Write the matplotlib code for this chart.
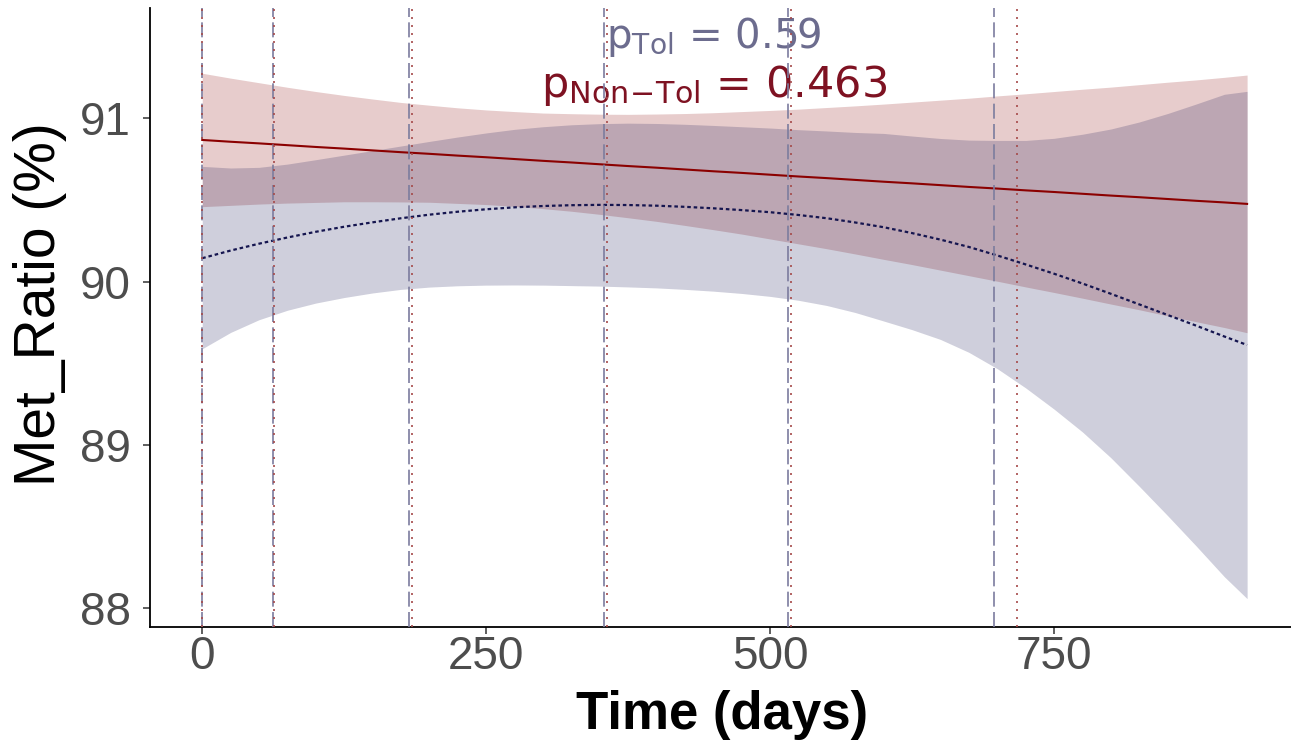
import matplotlib
matplotlib.use("Agg")
import matplotlib.pyplot as plt

# Fitted trajectories (with 95% confidence bands) of the methylation ratio over time
days = [0, 25, 50, 75, 100, 125, 150, 175, 200, 225, 250, 275, 300, 325, 350,
        375, 400, 425, 450, 475, 500, 525, 550, 575, 600, 625, 650, 675, 700,
        725, 750, 775, 800, 825, 850, 875, 900, 920]

nontol_fit = [90.868, 90.857, 90.847, 90.836, 90.825, 90.815, 90.804, 90.793,
              90.783, 90.772, 90.762, 90.751, 90.740, 90.730, 90.719, 90.708,
              90.698, 90.687, 90.676, 90.666, 90.655, 90.644, 90.634, 90.623,
              90.612, 90.602, 90.591, 90.580, 90.570, 90.559, 90.549, 90.538,
              90.527, 90.517, 90.506, 90.495, 90.485, 90.476]
nontol_hi = [91.277, 91.247, 91.219, 91.191, 91.165, 91.141, 91.119, 91.098,
             91.081, 91.065, 91.052, 91.042, 91.033, 91.029, 91.026, 91.025,
             91.027, 91.030, 91.035, 91.042, 91.049, 91.057, 91.067, 91.077,
             91.088, 91.100, 91.112, 91.124, 91.138, 91.151, 91.165, 91.179,
             91.192, 91.207, 91.222, 91.236, 91.252, 91.266]
nontol_lo = [90.459, 90.467, 90.475, 90.481, 90.485, 90.489, 90.489, 90.488,
             90.486, 90.479, 90.472, 90.461, 90.447, 90.431, 90.412, 90.391,
             90.369, 90.344, 90.318, 90.291, 90.261, 90.231, 90.201, 90.169,
             90.136, 90.104, 90.070, 90.036, 90.002, 89.967, 89.933, 89.898,
             89.862, 89.827, 89.790, 89.754, 89.718, 89.686]

tol_fit = [90.143, 90.190, 90.232, 90.270, 90.305, 90.336, 90.363, 90.388,
           90.410, 90.428, 90.443, 90.455, 90.463, 90.468, 90.470, 90.469,
           90.465, 90.458, 90.449, 90.438, 90.425, 90.408, 90.388, 90.362,
           90.333, 90.297, 90.257, 90.212, 90.160, 90.105, 90.048, 89.988,
           89.925, 89.860, 89.795, 89.730, 89.663, 89.611]
tol_hi = [90.706, 90.696, 90.700, 90.720, 90.747, 90.775, 90.803, 90.831,
          90.859, 90.886, 90.911, 90.933, 90.949, 90.961, 90.968, 90.971,
          90.969, 90.964, 90.957, 90.949, 90.941, 90.931, 90.923, 90.914,
          90.908, 90.892, 90.877, 90.867, 90.865, 90.865, 90.878, 90.903,
          90.935, 90.978, 91.030, 91.088, 91.148, 91.166]
tol_lo = [89.588, 89.688, 89.766, 89.824, 89.868, 89.902, 89.930, 89.952,
          89.966, 89.974, 89.978, 89.979, 89.978, 89.975, 89.972, 89.967,
          89.961, 89.952, 89.941, 89.927, 89.909, 89.885, 89.853, 89.810,
          89.758, 89.705, 89.645, 89.566, 89.466, 89.348, 89.218, 89.078,
          88.920, 88.745, 88.565, 88.380, 88.190, 88.056]

# Mean visit times per group
tol_visits = [0, 62, 182, 354, 516, 697]
nontol_visits = [0, 63, 185, 356, 518, 717]

p_tol = "0.59"
p_nontol = "0.463"

x_ticks = [0, 250, 500, 750]
y_ticks = [88, 89, 90, 91]

# Colours
NONTOL_LINE = "#8B0000"
NONTOL_FILL = "#8B0000"
TOL_LINE = "#15154F"
TOL_FILL = "#101050"
TOL_VLINE = "#7C7C9E"
NONTOL_VLINE = "#A54A4A"
TOL_TEXT = "#6C6C8E"
NONTOL_TEXT = "#7E1222"

plt.rcParams["mathtext.fontset"] = "dejavusans"

W, H = 1291, 742
fig = plt.figure(figsize=(W / 100, H / 100), dpi=100)
left, right, top, bottom = 150, 1299, 8, 627
ax = fig.add_axes([left / W, (H - bottom) / H, (right - left) / W, (bottom - top) / H])

# Confidence bands
ax.fill_between(days, nontol_lo, nontol_hi, color=NONTOL_FILL, alpha=0.2,
                linewidth=0, zorder=1)
ax.fill_between(days, tol_lo, tol_hi, color=TOL_FILL, alpha=0.2,
                linewidth=0, zorder=1.1)

# Fitted curves
ax.plot(days, nontol_fit, color=NONTOL_LINE, linewidth=1.5, zorder=2)
ax.plot(days, tol_fit, color=TOL_LINE, linewidth=1.6,
        linestyle=(0, (1.6, 1.3)), dash_capstyle="butt", zorder=2)

# p-value annotations
ax.text(450, 91.432, r"$\mathrm{p}_{\mathrm{Tol}}$ = " + p_tol,
        color=TOL_TEXT, fontsize=29, family="DejaVu Sans",
        ha="center", va="baseline", zorder=2.5)
ax.text(451, 91.132, r"$\mathrm{p}_{\mathrm{Non}\!-\!\mathrm{Tol}}$ = " + p_nontol,
        color=NONTOL_TEXT, fontsize=31, family="DejaVu Sans",
        ha="center", va="baseline", zorder=2.5)

# Visit markers
for v in tol_visits:
    ax.axvline(v, color=TOL_VLINE, linewidth=1.2, linestyle=(0, (9, 3.2)),
               zorder=3)
for v in nontol_visits:
    ax.axvline(v, color=NONTOL_VLINE, linewidth=1.2, linestyle=(0, (1.2, 3.6)),
               zorder=3.1)

ax.set_xlim(-46, 965.7)
ax.set_ylim(87.882, 91.677)
ax.set_xticks(x_ticks)
ax.set_yticks(y_ticks)
ax.set_xticklabels([str(t) for t in x_ticks])
ax.set_yticklabels([str(t) for t in y_ticks])

for s in ("top", "right"):
    ax.spines[s].set_visible(False)
for s in ("left", "bottom"):
    ax.spines[s].set_linewidth(1.3)
    ax.spines[s].set_color("black")

ax.tick_params(axis="both", direction="out", length=5, width=1.1,
               color="#333333", labelcolor="#4D4D4D", labelsize=33)
ax.tick_params(axis="x", pad=1)
ax.tick_params(axis="y", pad=9)
for lab in ax.get_xticklabels() + ax.get_yticklabels():
    lab.set_family("Liberation Sans")

ax.set_xlabel("Time (days)", fontsize=38, fontweight="bold",
              family="Liberation Sans", color="black", va="center")
ax.xaxis.set_label_coords((722 - left) / (right - left), -(715 - bottom) / (bottom - top))
ax.set_ylabel("Met_Ratio (%)", fontsize=41, family="Liberation Sans",
              color="black", va="center")
ax.yaxis.set_label_coords((40 - left) / (right - left), (bottom - 304) / (bottom - top))

ax.set_facecolor("white")
fig.patch.set_facecolor("white")
fig.savefig("out.png", dpi=100)
